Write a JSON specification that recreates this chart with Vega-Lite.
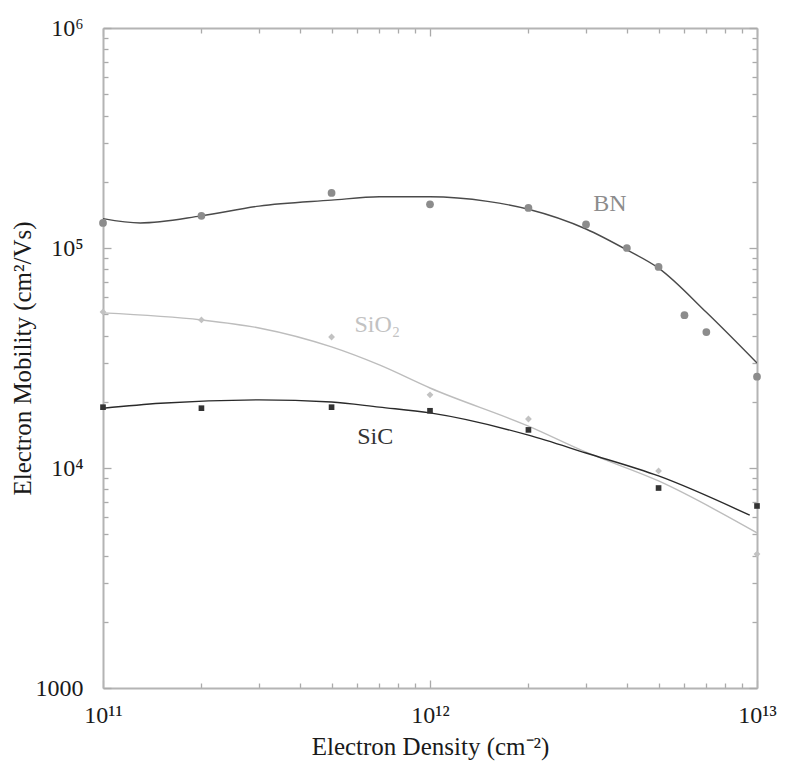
{
  "$schema": "https://vega.github.io/schema/vega-lite/v6.json",
  "width": 654,
  "height": 660,
  "autosize": {"type": "none"},
  "padding": {"left": 103, "top": 28, "right": 28, "bottom": 77},
  "background": "white",
  "config": {
    "view": {"stroke": null},
    "font": "Liberation Serif",
    "axis": {
      "domainColor": "#b4b4b4",
      "domainWidth": 2,
      "tickColor": "#aaaaaa",
      "tickWidth": 1.3,
      "grid": false,
      "labelFont": "Liberation Serif",
      "titleFont": "Liberation Serif",
      "labelColor": "#1a1a1a",
      "titleColor": "#1a1a1a",
      "titleFontWeight": "normal"
    }
  },
  "datasets": {
    "points": [
      {"material": "BN", "density": 1e11, "mobility": 130000},
      {"material": "BN", "density": 2e11, "mobility": 140000},
      {"material": "BN", "density": 5e11, "mobility": 178000},
      {"material": "BN", "density": 1e12, "mobility": 158000},
      {"material": "BN", "density": 2e12, "mobility": 152000},
      {"material": "BN", "density": 3e12, "mobility": 128000},
      {"material": "BN", "density": 4e12, "mobility": 100000},
      {"material": "BN", "density": 5e12, "mobility": 82000},
      {"material": "BN", "density": 6e12, "mobility": 49500},
      {"material": "BN", "density": 7e12, "mobility": 41500},
      {"material": "BN", "density": 1e13, "mobility": 26000},
      {"material": "SiO2", "density": 1e11, "mobility": 51200},
      {"material": "SiO2", "density": 2e11, "mobility": 47100},
      {"material": "SiO2", "density": 5e11, "mobility": 39400},
      {"material": "SiO2", "density": 1e12, "mobility": 21500},
      {"material": "SiO2", "density": 2e12, "mobility": 16700},
      {"material": "SiO2", "density": 5e12, "mobility": 9700},
      {"material": "SiO2", "density": 1e13, "mobility": 4060},
      {"material": "SiC", "density": 1e11, "mobility": 18900},
      {"material": "SiC", "density": 2e11, "mobility": 18700},
      {"material": "SiC", "density": 5e11, "mobility": 18900},
      {"material": "SiC", "density": 1e12, "mobility": 18200},
      {"material": "SiC", "density": 2e12, "mobility": 14900},
      {"material": "SiC", "density": 5e12, "mobility": 8110},
      {"material": "SiC", "density": 1e13, "mobility": 6720}
    ],
    "curves": [
      {"material": "BN", "density": 1e11, "mobility": 136000},
      {"material": "BN", "density": 1.3e11, "mobility": 130000},
      {"material": "BN", "density": 2e11, "mobility": 140000},
      {"material": "BN", "density": 3e11, "mobility": 155000},
      {"material": "BN", "density": 5e11, "mobility": 165000},
      {"material": "BN", "density": 7e11, "mobility": 171000},
      {"material": "BN", "density": 1e12, "mobility": 171000},
      {"material": "BN", "density": 1.5e12, "mobility": 163000},
      {"material": "BN", "density": 2e12, "mobility": 150000},
      {"material": "BN", "density": 3e12, "mobility": 122000},
      {"material": "BN", "density": 4e12, "mobility": 98000},
      {"material": "BN", "density": 5e12, "mobility": 81000},
      {"material": "BN", "density": 7e12, "mobility": 51000},
      {"material": "BN", "density": 1e13, "mobility": 30000},
      {"material": "SiO2", "density": 1e11, "mobility": 50700},
      {"material": "SiO2", "density": 2e11, "mobility": 47100},
      {"material": "SiO2", "density": 3e11, "mobility": 43300},
      {"material": "SiO2", "density": 5e11, "mobility": 35500},
      {"material": "SiO2", "density": 7e11, "mobility": 29400},
      {"material": "SiO2", "density": 1e12, "mobility": 23100},
      {"material": "SiO2", "density": 2e12, "mobility": 15500},
      {"material": "SiO2", "density": 3e12, "mobility": 11800},
      {"material": "SiO2", "density": 5e12, "mobility": 8730},
      {"material": "SiO2", "density": 1e13, "mobility": 5070},
      {"material": "SiC", "density": 1e11, "mobility": 18700},
      {"material": "SiC", "density": 1.5e11, "mobility": 19700},
      {"material": "SiC", "density": 3e11, "mobility": 20400},
      {"material": "SiC", "density": 5e11, "mobility": 19950},
      {"material": "SiC", "density": 7e11, "mobility": 18900},
      {"material": "SiC", "density": 1e12, "mobility": 17800},
      {"material": "SiC", "density": 2e12, "mobility": 14100},
      {"material": "SiC", "density": 3e12, "mobility": 11700},
      {"material": "SiC", "density": 5e12, "mobility": 9200},
      {"material": "SiC", "density": 9.5e12, "mobility": 6100}
    ],
    "labels": [
      {"material": "BN", "density": 3.55e12, "mobility": 158000, "label": "BN"},
      {"material": "SiO2", "density": 6.9e11, "mobility": 44500, "label": "SiO₂"},
      {"material": "SiC", "density": 6.8e11, "mobility": 13800, "label": "SiC"}
    ]
  },
  "layer": [
    {
      "data": {"name": "curves"},
      "mark": {"type": "line", "interpolate": "monotone", "clip": true},
      "encoding": {
        "x": {
          "field": "density", "type": "quantitative",
          "scale": {"type": "log", "domain": [1e11, 1e13], "nice": false},
          "axis": {
            "orient": "bottom",
            "title": "Electron Density (cm⁻²)",
            "titleFontSize": 25,
            "titlePadding": 4,
            "labelFontSize": 24,
            "labelPadding": 23,
            "tickSize": {"condition": {"test": "abs(log(datum.value)/LN10 - round(log(datum.value)/LN10)) < 0.01", "value": -8}, "value": -5},
            "values": [1e11, 2e11, 3e11, 4e11, 5e11, 6e11, 7e11, 8e11, 9e11, 1e12, 2e12, 3e12, 4e12, 5e12, 6e12, 7e12, 8e12, 9e12, 1e13],
            "labelExpr": "datum.value == 1e11 ? '10¹¹' : datum.value == 1e12 ? '10¹²' : datum.value == 1e13 ? '10¹³' : ''",
            "labelFlush": false,
            "labelOverlap": false
          }
        },
        "y": {
          "field": "mobility", "type": "quantitative",
          "scale": {"type": "log", "domain": [1000, 1000000], "nice": false},
          "axis": {
            "orient": "left",
            "title": "Electron Mobility (cm²/Vs)",
            "titleFontSize": 25,
            "titlePadding": 0,
            "labelFontSize": 24,
            "labelPadding": 28,
            "tickSize": {"condition": {"test": "abs(log(datum.value)/LN10 - round(log(datum.value)/LN10)) < 0.01", "value": -8}, "value": -5},
            "values": [1000, 2000, 3000, 4000, 5000, 6000, 7000, 8000, 9000, 10000, 20000, 30000, 40000, 50000, 60000, 70000, 80000, 90000, 100000, 200000, 300000, 400000, 500000, 600000, 700000, 800000, 900000, 1000000],
            "labelExpr": "datum.value == 1000 ? '1000' : datum.value == 10000 ? '10⁴' : datum.value == 100000 ? '10⁵' : datum.value == 1000000 ? '10⁶' : ''",
            "labelFlush": false,
            "labelOverlap": false
          }
        },
        "stroke": {
          "field": "material", "type": "nominal",
          "scale": {"domain": ["BN", "SiO2", "SiC"], "range": ["#4a4a4a", "#bdbdbd", "#2a2a2a"]},
          "legend": null
        },
        "strokeWidth": {
          "field": "material", "type": "nominal",
          "scale": {"domain": ["BN", "SiO2", "SiC"], "range": [1.4, 1.4, 2]},
          "legend": null
        }
      }
    },
    {
      "data": {"name": "points"},
      "mark": {"type": "point", "filled": true, "opacity": 1},
      "encoding": {
        "x": {
          "field": "density", "type": "quantitative",
          "axis": {
            "orient": "top", "title": null, "labels": false,
            "tickSize": {"condition": {"test": "abs(log(datum.value)/LN10 - round(log(datum.value)/LN10)) < 0.01", "value": -8}, "value": -5},
            "values": [1e11, 2e11, 3e11, 4e11, 5e11, 6e11, 7e11, 8e11, 9e11, 1e12, 2e12, 3e12, 4e12, 5e12, 6e12, 7e12, 8e12, 9e12, 1e13]
          }
        },
        "y": {
          "field": "mobility", "type": "quantitative",
          "axis": {
            "orient": "right", "title": null, "labels": false,
            "tickSize": {"condition": {"test": "abs(log(datum.value)/LN10 - round(log(datum.value)/LN10)) < 0.01", "value": -8}, "value": -5},
            "values": [1000, 2000, 3000, 4000, 5000, 6000, 7000, 8000, 9000, 10000, 20000, 30000, 40000, 50000, 60000, 70000, 80000, 90000, 100000, 200000, 300000, 400000, 500000, 600000, 700000, 800000, 900000, 1000000]
          }
        },
        "fill": {
          "field": "material", "type": "nominal",
          "scale": {"domain": ["BN", "SiO2", "SiC"], "range": ["#8c8c8c", "#c2c2c2", "#333333"]},
          "legend": null
        },
        "shape": {
          "field": "material", "type": "nominal",
          "scale": {"domain": ["BN", "SiO2", "SiC"], "range": ["circle", "diamond", "square"]},
          "legend": null
        },
        "size": {
          "field": "material", "type": "nominal",
          "scale": {"domain": ["BN", "SiO2", "SiC"], "range": [60, 32, 80]},
          "legend": null
        }
      }
    },
    {
      "data": {"name": "labels"},
      "mark": {"type": "text", "fontSize": 24, "font": "Liberation Serif", "align": "center", "baseline": "middle"},
      "encoding": {
        "x": {"field": "density", "type": "quantitative", "axis": null},
        "y": {"field": "mobility", "type": "quantitative", "axis": null},
        "text": {"field": "label"},
        "fill": {"field": "material", "type": "nominal", "legend": null}
      }
    }
  ],
  "resolve": {"axis": {"x": "independent", "y": "independent"}}
}
